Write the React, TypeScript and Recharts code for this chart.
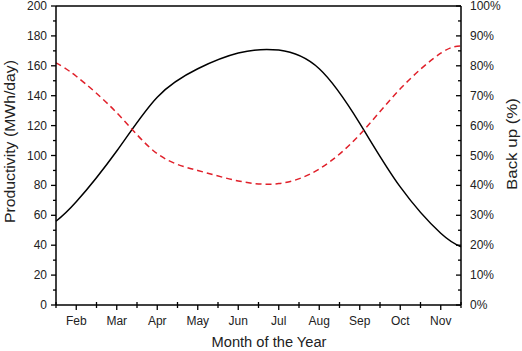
import React from 'react';
import { ComposedChart, Line, XAxis, YAxis, ReferenceLine } from 'recharts';

const monthPos = [1.5, 2, 3, 4, 5, 6, 7, 8, 9, 10, 11, 11.5];
const productivity = [56, 69, 103, 139, 158, 168.5, 170.5, 158, 121.5, 79, 48, 39];
const backup = [81, 76.5, 64.3, 50.6, 45, 41.5, 40.6, 45.5, 57, 72.3, 84.2, 86.6];
const monthNames = ['Feb', 'Mar', 'Apr', 'May', 'Jun', 'Jul', 'Aug', 'Sep', 'Oct', 'Nov'];
const xTicks = [1.5, 2, 2.5, 3, 3.5, 4, 4.5, 5, 5.5, 6, 6.5, 7, 7.5, 8, 8.5, 9, 9.5, 10, 10.5, 11, 11.5];
const leftTicks = [0, 10, 20, 30, 40, 50, 60, 70, 80, 90, 100, 110, 120, 130, 140, 150, 160, 170, 180, 190, 200];
const rightTicks = [0, 5, 10, 15, 20, 25, 30, 35, 40, 45, 50, 55, 60, 65, 70, 75, 80, 85, 90, 95, 100];

const data = monthPos.map((m, i) => ({ m, prod: productivity[i], back: backup[i] }));

const FONT = '"Liberation Sans", Arial, sans-serif';
const TXT = '#222';

const BottomTick = (props: any) => {
  const { x, y, payload } = props;
  const v = payload.value;
  const isMonth = Number.isInteger(v);
  if (isMonth) {
    return (
      <g>
        <line x1={x} x2={x} y1={y} y2={y + 5} stroke="#000" strokeWidth={1.3} />
        <text x={x} y={y + 20} textAnchor="middle" fontSize={12} fontFamily={FONT} fill={TXT}>
          {monthNames[v - 2]}
        </text>
      </g>
    );
  }
  return <line x1={x} x2={x} y1={y - 3} y2={y + 3} stroke="#000" strokeWidth={1.3} />;
};

const LeftTick = (props: any) => {
  const { x, y, payload } = props;
  const v = payload.value;
  const major = v % 20 === 0;
  return (
    <g>
      <line x1={x - (major ? 5 : 3)} x2={x} y1={y} y2={y} stroke="#000" strokeWidth={1.3} />
      {major && (
        <text x={x - 9} y={y + 4} textAnchor="end" fontSize={12} fontFamily={FONT} fill={TXT}>
          {v}
        </text>
      )}
    </g>
  );
};

const RightTick = (props: any) => {
  const { x, y, payload } = props;
  const v = payload.value;
  const major = v % 10 === 0;
  return (
    <g>
      <line x1={x} x2={x - (major ? 5 : 3)} y1={y} y2={y} stroke="#000" strokeWidth={1.3} />
      {major && (
        <text x={x + 9} y={y + 4} textAnchor="start" fontSize={12} fontFamily={FONT} fill={TXT}>
          {v}%
        </text>
      )}
    </g>
  );
};

export default function App() {
  return (
    <div style={{ position: 'absolute', left: 0, top: 0, width: 522, height: 351, background: '#fff' }}>
      <ComposedChart width={522} height={351} data={data} margin={{ top: 6, right: 0, bottom: 0, left: 0 }}>
        <XAxis
          dataKey="m"
          type="number"
          domain={[1.5, 11.5]}
          ticks={xTicks}
          interval={0}
          height={46}
          tickSize={0}
          tickMargin={0}
          tickLine={false}
          tick={<BottomTick />}
          axisLine={{ stroke: '#000', strokeWidth: 1.5 }}
        />
        <YAxis
          yAxisId="left"
          domain={[0, 200]}
          ticks={leftTicks}
          interval={0}
          width={56}
          tickSize={0}
          tickMargin={0}
          tickLine={false}
          tick={<LeftTick />}
          axisLine={{ stroke: '#000', strokeWidth: 1.5 }}
        />
        <YAxis
          yAxisId="right"
          orientation="right"
          domain={[0, 100]}
          ticks={rightTicks}
          interval={0}
          width={61}
          tickSize={0}
          tickMargin={0}
          tickLine={false}
          tick={<RightTick />}
          axisLine={{ stroke: '#000', strokeWidth: 1.5 }}
        />
        <ReferenceLine yAxisId="left" y={200} stroke="#000" strokeWidth={1.5} />
        <Line
          yAxisId="left"
          dataKey="prod"
          type="natural"
          stroke="#000"
          strokeWidth={1.5}
          dot={false}
          isAnimationActive={false}
        />
        <Line
          yAxisId="right"
          dataKey="back"
          type="natural"
          stroke="#e0202a"
          strokeWidth={1.5}
          strokeDasharray="6 4"
          dot={false}
          isAnimationActive={false}
        />
      </ComposedChart>
      <svg width={522} height={351} style={{ position: 'absolute', left: 0, top: 0, pointerEvents: 'none' }}>
        <text x={269} y={347} textAnchor="middle" fontSize={14} fontFamily={FONT} fill={TXT} textLength={115} lengthAdjust="spacingAndGlyphs">
          Month of the Year
        </text>
        <text x={14.5} y={141.5} textAnchor="middle" fontSize={14} fontFamily={FONT} fill={TXT} transform="rotate(-90 14.5 141.5)" textLength={163} lengthAdjust="spacingAndGlyphs">
          Productivity (MWh/day)
        </text>
        <text x={517} y={144} textAnchor="middle" fontSize={14} fontFamily={FONT} fill={TXT} transform="rotate(-90 517 144)" textLength={92} lengthAdjust="spacingAndGlyphs">
          Back up (%)
        </text>
      </svg>
    </div>
  );
}
